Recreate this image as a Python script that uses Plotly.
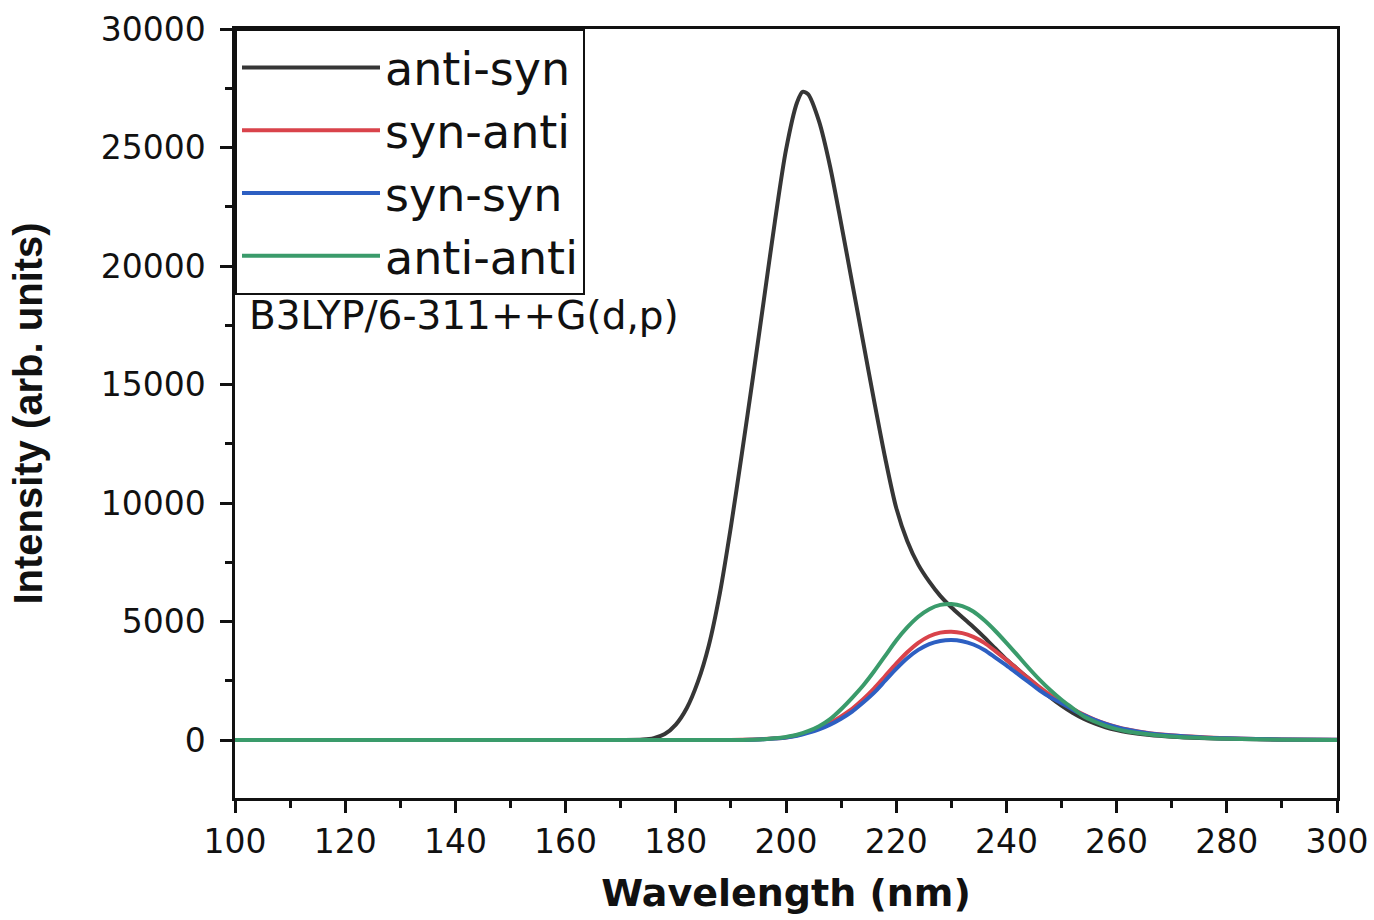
import plotly.graph_objects as go

# Simulated UV-Vis spectra of the four conformers (wavelength in nm, intensity in arb. units)
wl_anti_syn = [100, 170, 174, 176, 178, 180, 182, 184, 186, 188, 190, 192, 194, 196, 198,
               200, 202, 203, 204, 206, 208, 210, 212, 214, 216, 218, 220, 222, 224, 226,
               228, 230, 232, 234, 236, 238, 240, 242, 244, 246, 248, 250, 252, 254, 256,
               258, 260, 262, 266, 270, 275, 280, 290, 300]
int_anti_syn = [0, 0, 20, 80, 250, 650, 1350, 2450, 4000, 6200, 9000, 12100, 15300, 18600, 21900,
                24900, 26900, 27350, 27250, 26100, 24200, 21800, 19300, 16800, 14300, 11900, 9800, 8400, 7400, 6680,
                6080, 5600, 5180, 4770, 4330, 3860, 3400, 3000, 2600, 2200, 1800, 1450, 1150, 900, 700,
                540, 420, 330, 210, 140, 85, 50, 15, 5]

wl_conf = [100, 190, 194, 196, 198, 200, 202, 204, 206, 208, 210, 212, 214, 216, 218,
           220, 222, 224, 226, 228, 230, 232, 234, 236, 238, 240, 242, 244, 246, 248,
           250, 252, 254, 256, 258, 260, 262, 266, 270, 275, 280, 290, 300]
int_syn_anti = [0, 0, 20, 40, 70, 110, 200, 330, 500, 720, 1000, 1320, 1720, 2180, 2700,
                3220, 3700, 4100, 4380, 4530, 4570, 4510, 4350, 4100, 3750, 3380, 2990, 2600, 2230, 1890,
                1600, 1320, 1070, 860, 690, 550, 440, 290, 200, 125, 75, 25, 8]
int_syn_syn = [0, 0, 15, 35, 60, 100, 180, 300, 450, 650, 900, 1200, 1580, 2000, 2500,
               3000, 3450, 3800, 4050, 4180, 4220, 4170, 4030, 3800, 3480, 3150, 2800, 2450, 2100, 1800,
               1550, 1290, 1050, 850, 680, 540, 430, 280, 190, 120, 70, 22, 8]
int_anti_anti = [0, 0, 15, 30, 70, 130, 220, 370, 580, 880, 1300, 1780, 2300, 2900, 3550,
                 4200, 4750, 5200, 5520, 5700, 5740, 5650, 5420, 5050, 4600, 4100, 3580, 3050, 2550, 2100,
                 1700, 1350, 1000, 780, 600, 460, 360, 230, 150, 90, 50, 15, 5]

series = [
    ("anti-syn", wl_anti_syn, int_anti_syn, "#363636"),
    ("syn-anti", wl_conf, int_syn_anti, "#d9434b"),
    ("syn-syn", wl_conf, int_syn_syn, "#2d5fc2"),
    ("anti-anti", wl_conf, int_anti_anti, "#3a9b6b"),
]

fig = go.Figure()
for name, x, y, color in series:
    fig.add_trace(go.Scatter(
        x=x, y=y, mode="lines", name=name,
        line=dict(color=color, width=4, shape="spline", smoothing=0.8),
    ))

tick_font = dict(family="DejaVu Sans, Arial, sans-serif", size=33, color="#111111")

fig.update_layout(
    width=1374, height=920,
    margin=dict(l=235, r=37, t=29, b=122),
    paper_bgcolor="white", plot_bgcolor="white",
    showlegend=True,
    legend=dict(
        x=0, y=1, xanchor="left", yanchor="top",
        bgcolor="white", bordercolor="#111111", borderwidth=2,
        font=dict(family="DejaVu Sans, Arial, sans-serif", size=46, color="#111111"),
        itemwidth=138, tracegroupgap=0,
    ),
    xaxis=dict(
        range=[100, 300], dtick=20, tick0=100, automargin=False,
        showline=True, linecolor="#111111", linewidth=2.5, mirror=True,
        ticks="outside", ticklen=12, tickwidth=2.5, tickcolor="#111111",
        minor=dict(dtick=10, ticks="outside", ticklen=7, tickwidth=2.5, tickcolor="#111111"),
        showgrid=False, zeroline=False,
        tickfont=tick_font, ticklabelstandoff=1,
        title=dict(text="Wavelength (nm)", standoff=20,
                   font=dict(family="DejaVu Sans, Arial, sans-serif", size=38, color="#111111",
                             weight="bold")),
    ),
    yaxis=dict(
        range=[-2447, 30000], dtick=5000, tick0=0, tickformat="d", automargin=False,
        showline=True, linecolor="#111111", linewidth=2.5, mirror=True,
        ticks="outside", ticklen=12, tickwidth=2.5, tickcolor="#111111",
        minor=dict(dtick=2500, ticks="outside", ticklen=7, tickwidth=2.5, tickcolor="#111111"),
        showgrid=False, zeroline=False,
        tickfont=tick_font, ticklabelstandoff=8,
        title=dict(text="Intensity (arb. units)", standoff=46,
                   font=dict(family="Liberation Sans Narrow, Arial Narrow, Liberation Sans, sans-serif",
                             size=40, color="#111111", weight="bold")),
    ),
    annotations=[
        dict(text="B3LYP/6-311++G(d,p)", xref="paper", yref="paper",
             x=0.011, y=0.628, xanchor="left", yanchor="middle", showarrow=False,
             font=dict(family="DejaVu Sans, Arial, sans-serif", size=39, color="#111111")),
    ],
)

fig.write_html("out.html")
